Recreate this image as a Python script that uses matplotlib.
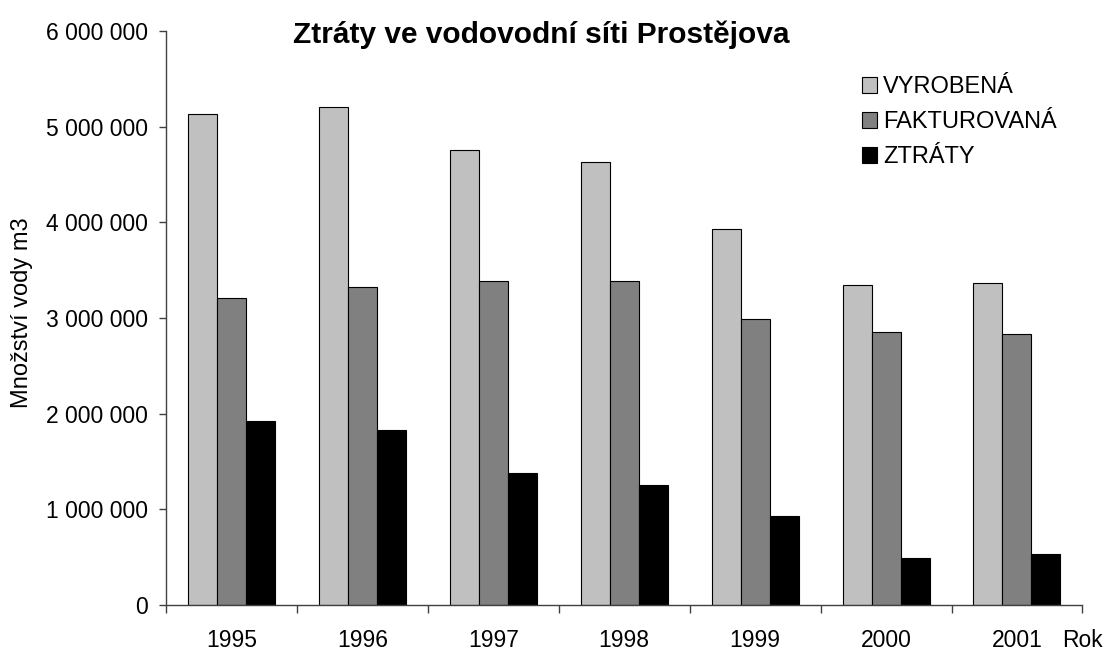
import matplotlib
matplotlib.use("Agg")
import matplotlib.pyplot as plt
import numpy as np
from matplotlib.ticker import FuncFormatter, FixedLocator

plt.rcParams["font.family"] = ["Liberation Sans", "DejaVu Sans"]

roky = ["1995", "1996", "1997", "1998", "1999", "2000", "2001"]
vyrobena = [5129000, 5205000, 4759000, 4634000, 3934000, 3348000, 3369000]
fakturovana = [3206000, 3324000, 3383000, 3383000, 2993000, 2854000, 2836000]
ztraty = [1923000, 1833000, 1376000, 1251000, 934000, 495000, 533000]

serie = [
    ("VYROBENÁ", vyrobena, "#c0c0c0"),
    ("FAKTUROVANÁ", fakturovana, "#808080"),
    ("ZTRÁTY", ztraty, "#000000"),
]

fig = plt.figure(figsize=(11.05, 6.52), dpi=100)
ax = fig.add_axes([0.1502, 0.0721, 0.8294, 0.8804])

x = np.arange(len(roky))
w = 0.2215
for k, (name, vals, col) in enumerate(serie):
    ax.bar(x + (k - 1) * w, vals, w, color=col, edgecolor="black",
           linewidth=0.8, label=name)

ax.set_xlim(-0.5, len(roky) - 0.5)
ax.set_ylim(0, 6000000)
ax.set_yticks(np.arange(0, 6000001, 1000000))
ax.yaxis.set_major_formatter(FuncFormatter(lambda v, p: f"{v:,.0f}".replace(",", " ")))

ax.set_xticks(x)
ax.set_xticklabels(roky)
ax.xaxis.set_minor_locator(FixedLocator(np.arange(-0.5, len(roky), 1.0)))
ax.tick_params(axis="x", which="major", length=0, pad=17, labelsize=16.5)
ax.tick_params(axis="x", which="minor", length=6, width=1, direction="out", color="#404040")
ax.tick_params(axis="y", length=5, width=1, direction="out", pad=8, labelsize=16.5, color="#404040")

for s in ["top", "right"]:
    ax.spines[s].set_visible(False)
for s in ["left", "bottom"]:
    ax.spines[s].set_color("#404040")
    ax.spines[s].set_linewidth(1)

ax.set_ylabel("Množství vody m3", fontsize=17)
ax.yaxis.set_label_coords(-0.145, 0.509)

fig.text(1062 / 1105, 1 - 647 / 652, "Rok", fontsize=16.5, ha="left", va="baseline")
fig.text(0.490, 0.9345, "Ztráty ve vodovodní síti Prostějova", fontsize=21.5,
         fontweight="bold", ha="center", va="baseline")

ax.legend(loc="upper left", bbox_to_anchor=(862 / 1105, 1 - 76 / 652),
          bbox_transform=fig.transFigure, frameon=False, fontsize=17,
          handlelength=0.64, handleheight=0.64, handletextpad=0.25,
          labelspacing=0.56, borderpad=0, borderaxespad=0)

fig.savefig("out.png", dpi=100)
